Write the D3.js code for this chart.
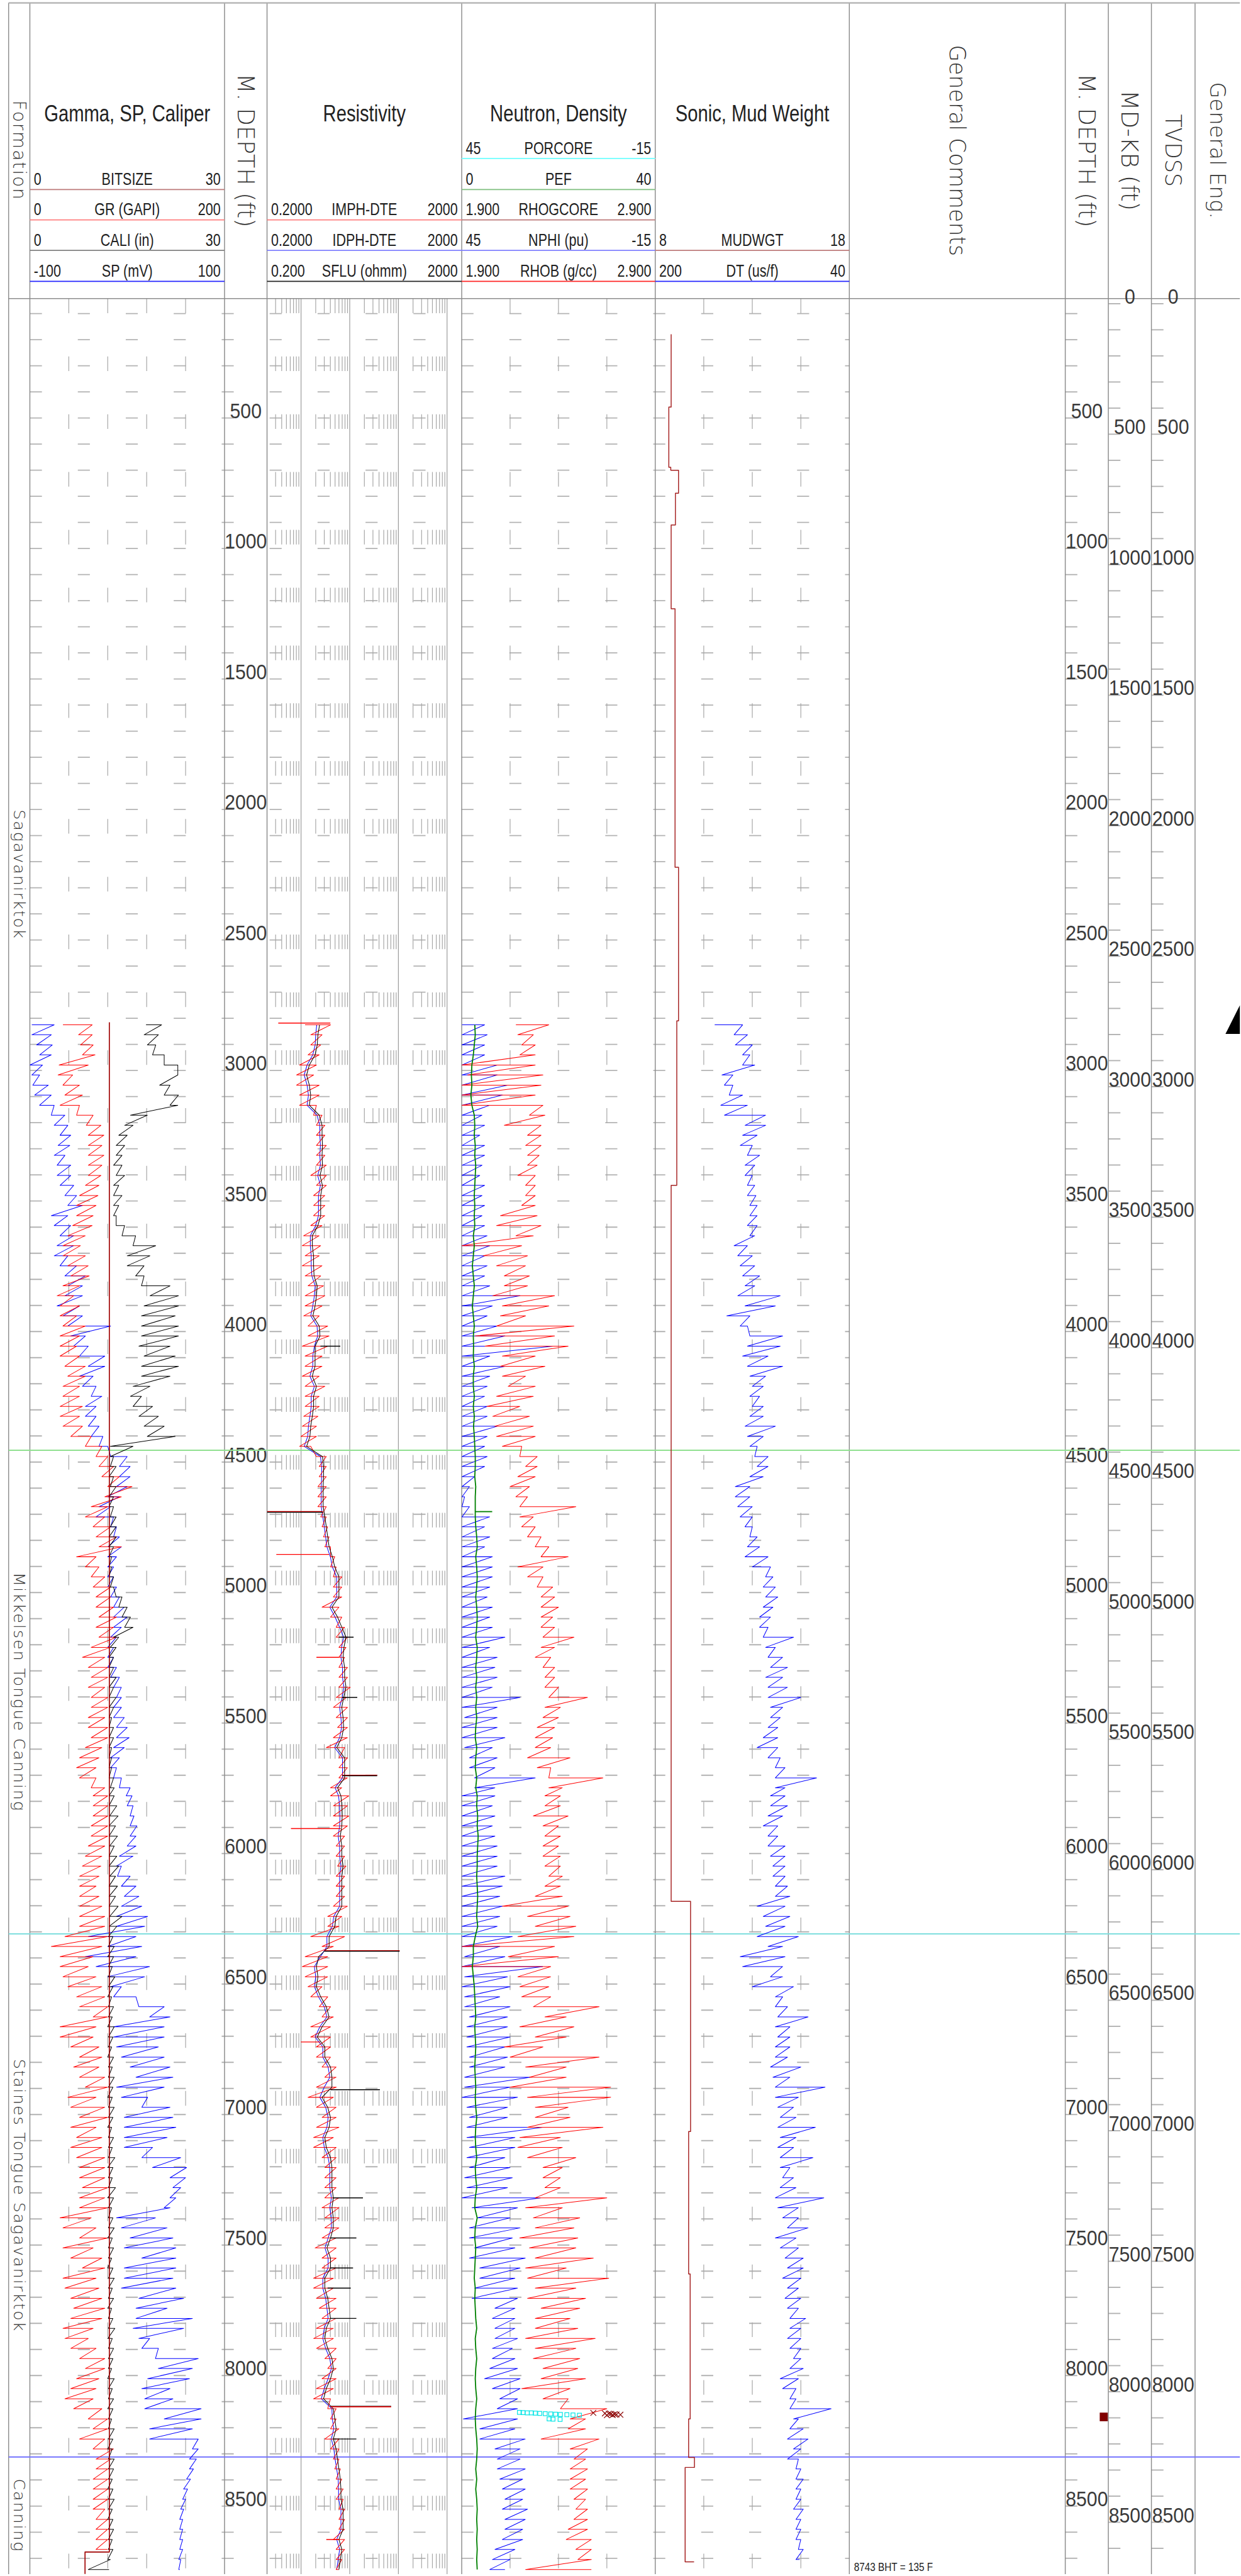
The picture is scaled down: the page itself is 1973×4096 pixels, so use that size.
<!DOCTYPE html>
<html>
<head>
<meta charset="utf-8">
<script src="https://cdn.jsdelivr.net/npm/d3@7"></script>
<style>
  body { margin: 0; background: #fff; }
</style>
</head>
<body>
<div id="chart"></div>
<script>
// ---- log samples (depth in ft, values in curve units) ----
var depthFt = [
  2825,2863,2902,2940,2979,3017,3056,3094,3133,3171,
  3210,3248,3287,3325,3363,3402,3440,3479,3517,3556,
  3594,3633,3671,3710,3748,3787,3825,3863,3902,3940,
  3979,4017,4056,4094,4133,4171,4210,4248,4287,4325,
  4363,4402,4440,4479,4517,4556,4594,4633,4671,4710,
  4748,4787,4825,4863,4902,4940,4979,5017,5056,5094,
  5133,5171,5210,5248,5287,5325,5363,5402,5440,5479,
  5517,5556,5594,5633,5671,5710,5748,
  5779,5817,5856,5894,5933,5971,6010,6048,6087,6125,
  6164,6202,6241,6279,6318,6356,6395,6433,6472,6510,
  6549,6587,6626,6664,6703,6741,6780,6818,6857,6895,
  6934,6972,7011,7049,7088,7126,7165,7203,7242,7280,
  7319,7357,7396,7434,7473,7511,7550,7588,7627,7665,
  7704,7742,7781,7819,7858,7896,7935,7973,8012,8050,
  8089,8127,8166,8204,8243,8281,8320,8358,8397,8435,
  8474,8512,8551,8589,8628,8666,8705,8743
];

// GR (GAPI) low / high edge of the trace
var grLo = [
  34,50,52,54,30,29,34,36,31,48, 58,60,60,60,60,60,57,51,48,48,
  44,39,34,34,39,42,34,28,31,31, 34,31,31,31,36,39,34,34,31,31,
  34,42,57,68,71,74,80,77,63,57, 65,68,71,48,57,63,65,68,68,71,
  68,71,63,54,60,63,60,63,63,60, 60,63,57,51,48,51,63,
  65,65,65,63,63,60,57,54,51,51, 51,51,51,51,36,22,31,31,34,39,
  48,51,65,31,31,42,51,45,51,57, 39,42,51,42,48,42,48,51,51,54,
  51,51,31,34,51,34,42,54,34,36, 42,45,42,34,36,42,51,57,48,42,
  36,45,60,65,51,65,68,68,65,65, 65,65,68,68,68,68,null,null
];
var grHi = [
  64,64,65,67,60,44,51,54,51,65, 73,76,74,76,74,73,71,70,68,65,
  64,57,52,57,60,61,51,45,51,48, 57,51,48,51,57,57,51,51,54,51,
  54,63,74,80,86,92,105,94,80,77, 83,89,94,68,71,77,83,83,86,89,
  86,89,83,77,80,80,77,80,80,77, 80,80,74,71,68,68,77,
  80,80,80,80,80,77,74,73,71,68, 71,74,77,77,80,74,65,60,68,74,
  77,80,80,68,65,71,74,71,77,80, 68,77,80,68,74,74,77,77,77,80,
  77,80,63,68,80,65,74,77,68,71, 74,77,74,65,60,68,77,77,71,68,
  65,74,80,80,77,86,83,80,80,80, 80,77,80,80,80,80,null,null
];

// SP (mV)
var spLo = [
  -98,-98,-93,-90,-100,-98,-97,-95,-90,-78, -75,-69,-71,-75,-72,-72,-69,-64,-61,-78,
  -75,-69,-72,-75,-69,-64,-61,-64,-72,-66, -61,-58,-55,-49,-40,-49,-46,-37,-43,-43,
  -40,-37,-29,-17,-8,-8,-11,-20,-29,-32, -17,-14,-20,-20,-20,-20,-20,-17,-14,-14,
  -14,-17,-20,-20,-20,-17,-14,-11,-14,-14, -11,-11,-14,-17,-17,-14,-8,
  -1,0,3,3,3,0,-8,-11,-10,-6, -3,-6,-11,-11,-40,-20,-43,-32,-20,-17,
  -14,12,23,-14,-14,-11,-6,3,9,-11, -6,15,-3,-3,-3,-3,15,26,44,47,
  44,38,-11,-6,3,-3,15,-3,-3,-6, 12,9,9,6,12,15,29,32,21,15,
  18,18,38,23,23,67,64,64,61,58, 57,55,54,54,54,54,53,53
];
var spHi = [
  -75,-78,-77,-78,-87,-90,-81,-78,-75,-64, -61,-58,-59,-64,-58,-58,-55,-52,-46,-61,
  -58,-55,-55,-61,-52,-43,-46,-46,-49,-46, -17,-43,-40,-23,-23,-35,-32,-26,-32,-32,
  -29,-25,-20,0,3,3,0,-8,-17,-14, -11,-8,-6,-11,-14,-14,-11,-8,-3,0,
  -6,-11,-14,-14,-11,-8,-6,-6,-6,-3, 0,2,-3,-8,-11,-6,3,
  5,6,7,10,9,9,6,-6,3,9, 12,15,21,18,9,15,9,23,18,-6,
  9,38,44,38,38,32,38,44,47,38, 21,44,47,50,41,26,55,61,60,55,
  50,44,29,41,47,50,50,50,47,50, 58,41,67,58,23,32,73,67,64,44,
  47,76,76,67,73,73,71,68,65,62, 60,58,57,57,57,57,55,54
];

// CALI (in)
var caliLo = [
  17.9,17.6,18.1,18.9,20.7,22.8,20.0,20.7,21.6,15.5, 14.6,13.7,13.3,13.3,12.9,13.3,12.9,12.9,12.9,12.9,
  13.3,14.2,15.9,15.0,15.0,16.3,17.2,18.5,17.6,17.2, 17.2,17.2,16.8,17.6,17.2,17.2,15.9,15.5,15.9,16.8,
  17.6,18.1,12.4,12.4,12.4,12.2,12.4,12.2,12.2,12.4, 12.4,12.2,12.2,12.2,12.2,12.2,12.4,13.3,13.7,14.2,
  14.6,12.9,12.4,12.2,12.2,12.2,12.2,12.2,12.2,12.2, 12.2,12.2,12.2,12.2,12.2,12.2,12.4,
  12.2,12.2,12.3,12.2,12.2,12.3,12.2,12.2,12.3,12.2, 12.2,12.2,12.3,12.2,12.1,12.1,12.0,12.1,12.1,12.1,
  12.0,12.1,12.1,12.0,12.1,12.1,12.0,12.1,12.1,12.1, 12.0,12.1,12.1,12.0,12.1,12.1,12.1,12.0,12.1,12.1,
  12.0,12.1,12.1,12.1,12.0,12.1,12.1,12.0,12.1,12.1, 12.1,12.0,12.1,12.1,12.0,12.1,12.1,12.1,12.0,12.1,
  12.1,12.0,12.1,12.1,12.1,12.0,12.1,12.1,12.1,12.0, 12.1,12.1,12.0,12.1,12.1,12.1,12.0,9.0
];
var caliHi = [
  20.3,19.8,19.4,20.7,22.8,22.8,21.6,22.9,22.8,18.1, 15.9,15.0,14.6,14.2,14.2,14.6,13.7,14.2,13.7,13.3,
  14.6,16.3,19.4,18.5,17.6,17.6,21.6,22.9,22.9,22.4, 22.9,22.9,21.6,22.4,22.9,21.6,18.5,17.2,18.9,19.8,
  20.7,22.4,15.9,12.9,13.3,12.9,13.3,12.9,12.9,13.3, 13.3,13.3,12.9,12.6,12.6,12.9,12.9,14.2,15.0,15.5,
  15.9,13.7,13.3,12.9,12.9,13.3,12.9,13.3,12.9,12.6, 12.9,12.9,12.6,12.6,12.6,12.9,13.0,
  13.0,13.4,13.6,13.2,13.5,13.0,13.4,13.7,13.2,13.5, 13.2,13.6,14.2,13.4,12.8,13.0,12.9,12.7,13.1,12.8,
  12.6,12.9,12.7,13.0,12.8,12.6,12.9,12.7,13.0,12.8, 12.7,13.0,12.8,12.6,12.9,12.7,13.1,12.8,12.7,13.2,
  12.9,12.6,12.8,13.0,12.7,12.9,12.6,12.8,13.0,12.7, 12.9,12.6,12.8,13.1,12.7,12.9,12.8,12.6,13.0,12.7,
  12.9,12.8,12.6,13.0,12.8,12.7,13.0,12.9,12.7,12.8, 13.0,12.7,12.8,12.9,12.7,12.8,12.4,12.2
];

// bit size (in)
var bitFt = [2815, 8676, 8676, 8760];
var bitIn = [12.25, 12.25, 8.5, 8.5];

// IMPH-DTE (ohmm)
var imphLo = [
  1.21,1.58,1.58,1.39,0.93,0.81,0.81,0.93,0.93,1.81, 2.07,2.07,2.07,2.07,2.07,1.58,2.07,1.81,1.81,1.81,
  1.58,1.13,1.06,1.21,1.06,1.21,1.39,1.21,1.21,1.13, 1.39,1.39,1.06,1.21,1.21,1.06,1.21,1.21,1.21,1.13,
  1.06,0.99,0.93,2.07,2.36,2.36,2.22,2.22,2.22,2.53, 2.70,2.89,3.08,4.03,4.03,4.61,4.61,4.61,2.70,4.03,
  5.26,5.26,6.01,6.01,6.01,6.01,6.01,5.26,4.61,5.26, 5.62,4.61,3.30,6.01,6.01,6.01,4.03,
  4.03,4.61,4.61,4.61,4.61,5.26,5.26,5.62,5.26,5.26, 5.26,4.61,3.53,3.53,1.58,2.70,1.21,1.06,1.21,1.39,
  1.58,2.36,2.70,1.58,1.58,2.07,2.07,2.70,3.08,2.07, 1.39,2.07,2.70,2.07,1.81,1.81,2.70,3.08,3.08,3.08,
  3.08,2.70,3.08,3.08,2.70,1.94,2.70,2.70,1.81,1.81, 2.07,2.36,2.70,2.07,1.81,2.07,3.08,3.53,2.70,2.07,
  1.81,3.53,4.03,4.03,3.08,4.03,4.61,4.93,5.26,5.26, 5.26,6.01,6.01,6.01,4.61,5.26,5.26,5.26
];
var imphHi = [
  4.03,2.70,2.53,2.36,2.07,1.81,2.36,2.36,2.07,2.70, 3.08,3.08,3.30,3.08,3.30,3.30,3.30,3.08,3.08,3.08,
  2.70,2.36,2.53,2.36,2.70,2.53,2.89,3.08,2.70,2.36, 3.53,3.77,3.53,2.70,2.70,2.36,3.08,2.36,2.36,2.22,
  2.07,2.07,1.58,3.30,3.30,3.30,3.30,3.30,3.30,3.30, 3.53,3.77,4.03,4.93,5.26,6.87,6.87,6.87,6.01,6.87,
  7.85,8.97,8.39,7.85,8.97,8.97,10.3,8.5,8.97,8.97, 8.97,8.97,7.85,8.97,8.97,8.97,6.87,
  9.59,8.97,9.59,8.97,7.85,7.85,7.85,8.39,7.85,7.85, 7.85,8.97,6.87,6.01,7.85,4.61,3.53,3.53,3.53,2.70,
  3.53,4.03,4.61,4.03,4.03,4.03,4.03,5.26,5.26,5.30, 4.61,5.26,5.26,6.01,4.61,5.26,5.26,5.26,5.26,5.26,
  6.01,6.01,6.01,6.01,5.26,5.26,5.26,5.26,4.61,4.61, 5.26,5.26,5.26,4.61,4.61,5.26,5.26,5.26,5.26,4.61,
  4.03,5.26,5.26,6.01,6.01,6.01,6.01,6.43,6.87,7.34, 7.34,7.85,7.85,7.85,7.85,7.85,6.87,6.01
];
// SFLU (ohmm)
var sflu = [
  2.4,2.22,2.15,1.94,1.48,1.30,1.48,1.58,1.48,2.36, 2.70,2.70,2.75,2.70,2.75,2.45,2.75,2.53,2.53,2.53,
  2.22,1.70,1.70,1.81,1.81,1.85,2.15,2.07,1.94,1.75, 2.36,2.45,1.94,1.94,1.94,1.70,2.07,1.81,1.81,1.70,
  1.58,1.52,1.30,2.75,2.9,2.9,2.85,2.85,2.85,3.08, 3.30,3.53,3.77,4.4,4.93,6.0,6.0,6.0,4.31,5.62,
  6.87,8.4,7.6,7.3,7.85,7.85,8.4,7.5,6.87,7.3, 7.5,6.87,5.4,7.85,7.85,7.85,5.62,
  6.6,6.87,7.0,6.87,6.4,6.87,6.87,7.3,6.87,6.87, 6.87,6.87,5.26,4.93,3.77,3.77,2.3,2.07,2.22,2.07,
  2.53,3.30,3.77,2.70,2.15,3.08,3.08,4.03,4.31,4.31, 2.70,3.53,4.03,3.77,3.08,3.30,4.03,4.31,4.31,4.31,
  4.6,4.31,4.6,4.6,4.03,3.4,4.03,4.03,3.08,3.08, 3.53,3.77,4.03,3.3,3.08,3.53,4.31,4.6,4.03,3.3,
  2.9,4.6,4.93,5.26,4.6,5.26,5.6,6.0,6.4,6.6, 6.6,7.3,7.3,7.3,6.0,6.87,6.43,6.0
];
// IDPH-DTE (ohmm)
var idph = [
  2.1,2.0,1.95,1.74,1.33,1.16,1.33,1.42,1.33,2.13, 2.43,2.43,2.5,2.43,2.5,2.2,2.5,2.28,2.28,2.28,
  2.0,1.55,1.55,1.62,1.62,1.67,1.95,1.88,1.74,1.58, 2.13,2.2,1.88,1.74,1.74,1.52,1.88,1.62,1.62,1.52,
  1.42,1.37,1.16,2.5,2.65,2.65,2.6,2.6,2.6,2.8, 3.0,3.2,3.4,4.0,4.4,5.4,5.4,5.4,3.9,5.0,
  6.2,7.5,6.8,6.6,7.1,7.1,7.6,7.0,6.2,6.6, 6.8,6.2,4.9,7.1,7.1,7.1,5.0,
  5.9,6.2,6.3,6.2,5.8,6.2,6.2,6.6,6.2,6.2, 6.2,6.2,4.7,4.4,3.4,3.4,2.5,1.88,2.0,1.88,
  2.28,3.0,3.4,2.43,1.95,2.8,2.8,3.6,3.9,3.0, 2.43,3.2,3.6,3.4,2.8,3.0,3.6,3.9,3.9,3.9,
  4.2,3.9,4.2,4.2,3.6,3.1,3.6,3.6,2.8,2.8, 3.2,3.4,3.6,3.0,2.8,3.2,3.9,4.2,3.6,3.0,
  2.6,4.3,4.4,4.7,4.2,4.7,5.0,5.4,5.8,5.9, 5.9,6.6,6.6,6.6,5.4,6.2,5.8,5.4
];
// single-sample resistivity spikes: depth, trace value, spike tip, curve
var resSpikeFt  = [2818, 4056, 4690, 4692, 4854, 5171, 5248, 5402, 5700, 5702, 5904, 6372, 6374, 6722, 6905, 7319, 7473, 7588, 7665, 7781, 8118, 8120, 8243, 8628];
var resSpikeBase = [4.0, 2.5, 2.8, 2.8, 3.8, 6.0, 6.0, 7.0, 7.0, 7.0, 6.5, 3.0, 3.0, 2.5, 4.0, 4.5, 4.0, 4.0, 3.5, 4.0, 4.0, 4.0, 4.5, 6.0];
var resSpikeTip  = [0.34, 6.4, 0.2, 0.2, 0.31, 12.0, 2.07, 14.3, 36.5, 36.5, 0.62, 106, 106, 0.99, 41.7, 18.7, 13.7, 11.7, 10.5, 13.7, 71, 71, 13.7, 3.3];
var resSpikeCurve = ["IMPH", "SFLU", "IMPH", "SFLU", "IMPH", "SFLU", "IMPH", "SFLU", "IMPH", "SFLU", "IMPH", "IMPH", "SFLU", "IMPH", "SFLU", "SFLU", "SFLU", "SFLU", "SFLU", "SFLU", "SFLU", "IMPH", "SFLU", "IMPH"];

// NPHI (pu): high-porosity edge / low-porosity edge
var nphiHi = [
  44.9,44.9,44.9,44.9,44.9,44.9,44.9,44.9,44.9,44.9, 44.9,44.9,44.9,44.9,44.9,44.9,44.9,44.9,44.9,44.9,
  44.9,44.9,44.9,44.9,44.9,44.9,44.9,44.9,44.9,44.9, 44.9,44.9,44.9,44.9,44.9,44.9,44.9,44.9,44.9,44.9,
  44.9,44.9,44.9,44.9,44.9,44.9,44.9,44.9,44.9,44.9, 44.9,44.9,44.9,44.9,44.9,44.9,44.9,44.9,44.9,44.9,
  44.9,44.9,44.9,44.9,44.9,44.9,44.9,44.9,44.9,44.1, 44.9,44.9,44.1,42.6,42.6,41.0,41.0,
  44.9,44.9,44.9,44.9,44.9,44.9,44.9,44.9,44.9,44.9, 44.9,44.9,44.9,44.9,44.9,44.9,44.1,44.9,44.1,44.9,
  44.1,44.1,42.6,43.4,43.4,43.4,42.6,42.6,44.1,44.1, 44.9,43.4,42.6,43.4,43.4,42.6,43.4,42.6,44.1,43.4,
  44.9,41.8,40.2,42.6,42.6,41.0,42.6,39.4,39.4,41.0, 41.8,34.7,35.5,34.7,34.7,35.5,35.5,36.3,37.9,35.5,
  33.2,34.0,44.5,39.4,39.4,34.7,34.0,34.0,33.2,32.4, 31.6,32.4,31.6,31.6,32.4,34.7,35.5,36.3
];
var nphiLo = [
  37.9,37.1,37.9,37.9,34.0,34.0,30.8,32.4,36.3,38.7, 37.9,39.4,37.9,37.9,38.7,39.4,37.9,38.7,37.9,38.7,
  37.9,37.1,36.3,37.9,37.1,37.9,36.3,26.9,35.5,37.1, 34.0,31.6,16.7,36.3,31.6,36.3,37.1,37.9,37.1,37.1,
  34.0,37.1,37.9,37.1,37.9,41.0,42.6,44.1,42.6,36.3, 37.9,36.3,37.9,35.5,35.5,35.5,36.3,37.1,35.5,36.3,
  35.5,31.6,36.3,34.0,34.7,34.0,35.5,26.9,34.0,34.0, 34.0,31.6,35.5,34.0,34.7,22.2,34.7,
  34.7,35.5,34.7,35.5,34.7,34.0,34.0,34.0,31.6,32.4, 33.2,32.4,33.2,34.0,29.3,33.2,31.6,19.9,30.8,30.0,
  33.2,30.0,30.8,30.8,30.0,31.6,30.8,31.6,23.8,30.0, 27.7,30.8,30.8,19.9,28.5,28.5,31.6,30.0,29.3,30.8,
  20.6,27.7,30.0,26.9,29.3,28.5,25.3,26.9,28.5,27.7, 27.7,28.5,28.5,28.5,27.7,29.3,28.5,27.7,26.9,26.9,
  27.7,27.7,27.7,28.5,25.3,26.9,26.9,25.3,26.1,25.3, 26.1,24.6,25.3,26.1,26.1,28.5,30.0,31.6
];

// RHOB (g/cc)
var rhobLo = [
  2.18,2.19,2.21,2.20,1.90,1.93,1.90,1.90,1.90,2.25, 2.12,2.24,2.23,2.24,2.24,2.19,2.23,2.23,2.21,2.10,
  2.08,2.18,1.90,2.01,2.08,2.12,2.12,2.06,2.11,2.10, 2.08,1.97,2.02,2.11,2.10,2.11,2.14,2.08,2.03,2.06,
  2.07,2.08,2.11,2.20,2.23,2.19,2.15,2.18,2.20,2.20, 2.21,2.24,2.28,2.31,2.19,2.24,2.29,2.31,2.31,2.31,
  2.31,2.32,2.31,2.28,2.32,2.33,2.33,2.35,2.33,2.32, 2.29,2.28,2.28,2.24,2.29,2.35,2.35,
  2.33,2.33,2.27,2.32,2.33,2.32,2.32,2.33,2.35,2.33, 2.28,2.11,2.24,2.28,2.19,1.90,2.14,1.90,2.19,2.20,
  2.21,2.27,2.33,2.20,2.28,2.12,2.15,2.23,2.25,2.15, 2.24,2.28,2.28,2.24,2.20,2.19,2.24,2.32,2.32,2.33,
  2.28,2.23,2.27,2.28,2.20,2.25,2.28,2.23,2.24,2.28, 2.24,2.31,2.28,2.28,2.23,2.28,2.27,2.32,2.31,2.21,
  2.32,2.41,2.46,2.45,2.31,2.46,2.48,2.46,2.46,2.46, 2.48,2.49,2.48,2.45,2.44,2.49,2.50,2.23
];
var rhobHi = [
  2.35,2.27,2.28,2.28,2.28,2.32,2.31,2.28,2.32,2.33, 2.31,2.31,2.31,2.30,2.29,2.28,2.28,2.28,2.28,2.29,
  2.31,2.27,2.21,2.24,2.23,2.25,2.24,2.38,2.35,2.23, 2.48,2.38,2.45,2.28,2.33,2.23,2.28,2.27,2.20,2.25,
  2.27,2.28,2.21,2.29,2.29,2.28,2.25,2.24,2.49,2.27, 2.28,2.31,2.35,2.45,2.32,2.32,2.37,2.38,2.40,2.37,
  2.38,2.48,2.38,2.36,2.38,2.38,2.40,2.55,2.41,2.40, 2.38,2.37,2.36,2.46,2.36,2.63,2.42,
  2.41,2.41,2.45,2.40,2.41,2.40,2.41,2.41,2.42,2.41, 2.42,2.45,2.46,2.49,2.48,2.38,2.40,2.36,2.36,2.35,
  2.36,2.61,2.44,2.48,2.44,2.32,2.61,2.44,2.44,2.67, 2.67,2.45,2.46,2.63,2.41,2.42,2.49,2.42,2.41,2.41,
  2.65,2.42,2.51,2.48,2.50,2.49,2.58,2.44,2.66,2.49, 2.54,2.51,2.46,2.50,2.59,2.49,2.51,2.50,2.54,2.46,
  2.45,2.65,2.54,2.54,2.61,2.55,2.54,2.55,2.54,2.55, 2.54,2.55,2.55,2.55,2.57,2.57,2.57,2.57
];

// PEF
var pef = [
  2.7,2.8,2.6,2.4,2.1,2.0,2.1,1.9,2.1,2.6, 2.7,2.6,2.8,2.7,2.9,2.8,2.7,2.6,2.7,2.6,
  2.7,2.4,2.6,2.4,2.2,2.4,2.6,2.4,2.2,2.4, 2.6,2.4,2.45,2.4,2.6,2.4,2.4,2.6,2.4,2.6,
  2.45,2.6,2.7,2.8,2.8,2.7,2.9,2.8,2.8,2.8, 2.9,3.1,3.2,2.9,3.1,3.2,3.1,2.9,3.1,3.2,
  3.1,2.9,3.2,3.1,2.9,3.1,2.9,3.1,2.9,3.1, 2.9,2.8,3.1,2.9,2.8,3.1,2.9,
  3.2,3.1,3.3,3.2,3.4,3.3,3.2,3.2,3.1,3.2, 3.3,3.2,3.1,3.3,2.8,2.4,2.4,2.2,2.4,2.6,
  2.7,2.8,2.9,2.7,2.8,2.9,2.8,2.7,2.8,2.9, 2.8,2.9,3.1,2.9,2.8,2.9,3.1,2.8,2.9,3.1,
  2.8,2.7,3.2,2.8,2.7,2.9,2.8,2.7,2.6,2.8, 2.7,2.8,2.9,3.1,2.8,2.9,3.1,2.9,2.8,2.9,
  3.1,2.9,2.8,2.9,3.1,3.2,3.1,2.9,3.1,2.9, 3.1,3.2,3.1,3.2,3.1,3.2,3.1,3.2
];
var pefSpikeFt = [4690];
var pefSpikeBase = [2.8];
var pefSpikeTip = [6.3];

// DT (us/f): slow edge / fast edge
var dtHi = [
  151,135,134,128,128,145,143,139,146,143, 126,128,130,124,126,126,124,124,122,122,
  124,122,135,132,130,128,126,132,126,141, 130,122,124,128,124,122,120,122,120,122,
  126,124,122,118,116,122,134,134,132,130, 126,122,124,126,120,109,111,109,111,114,
  114,111,109,107,105,109,107,107,105,105, 107,111,116,107,101,101,101,
  105,105,107,111,107,107,105,103,103,101, 101,116,111,109,116,107,130,128,105,120,
  101,101,99,101,99,101,101,105,103,101, 101,99,97,99,97,99,97,97,95,97,
  101,99,95,91,101,97,93,91,95,91, 93,91,89,89,91,89,86,89,97,95,
  89,89,86,89,91,86,91,84,84,84, 84,86,84,84,84,82,84,null
];
var dtLo = [
  128,124,120,122,118,136,136,128,124,109, 109,116,120,114,118,120,118,117,116,116,
  116,118,124,120,118,114,118,97,101,122, 124,95,97,107,95,109,111,114,111,111,
  101,111,116,107,107,111,122,122,120,120, 120,116,114,107,105,103,101,99,103,105,
  107,86,101,95,91,95,91,80,95,97, 99,99,99,97,93,67,93,
  93,91,95,99,99,93,93,93,93,91, 89,93,89,93,82,95,93,95,95,86,
  95,91,74,89,89,89,91,80,89,60, 82,86,84,68,84,86,70,89,86,84,
  61,82,82,74,84,82,78,78,80,82, 80,82,76,80,80,80,80,78,82,84,
  84,55,82,78,74,80,82,80,78,80, 80,78,80,80,80,78,81,null
];

// mud weight (ppg), each value holds down to the next depth
var mwFt  = [179, 458, 689, 700, 788, 910, 1231, 2221, 2810, 3440, 6183, 7065, 7611, 8166, 8314, 8352, 8714];
var mwPpg = [8.82, 8.7, 8.8, 9.2, 9.04, 8.82, 9.02, 9.2, 9.11, 8.82, 9.82, 9.72, 9.8, 9.72, 10.02, 9.54, 10.0];

// core points
var porCoreFt = [8141, 8142, 8143, 8143, 8144, 8145, 8146, 8147, 8148, 8149, 8150, 8151, 8152, 8166, 8167, 8168];
var porCore   = [27.1, 26.0, 24.7, 23.4, 22.2, 20.8, 19.1, 17.4, 15.9, 14.4, 12.4, 10.5, 8.5, 17.9, 16.7, 14.5];
var rhogCoreFt = [8143, 8145, 8146, 8147, 8148, 8149, 8150, 8151, 8152];
var rhogCore   = [2.58, 2.64, 2.66, 2.67, 2.69, 2.70, 2.72, 2.68, 2.65];
var coreIntervalFt = [8142, 8175];

// formations
var formNames = ["Sagavanirktok", "Mikkelsen Tongue Canning", "Staines Tongue Sagavanirktok", "Canning"];
var formTopsFt = [4455, 6308, 8312];
var formColors = ["#8fe08f", "#80dede", "#7373ff"];

var kbShiftFt = 62;
var casingShoeFt = 2860;
var bhtNote = "8743 BHT = 135 F";

// ---- layout ----
var K = 0.913;
var TOP = 5, HEAD = 520, BOT = 4483, RIGHT = 2159;
var X = { form: 15, gam: 52, dep: 391, res: 465, neu: 804, son: 1141, sonR: 1479,
          com: 1855, md2: 1930, kb: 2005, tv: 2081 };
var SANS = '"Liberation Sans", Arial, sans-serif';
var ROT = '"DejaVu Sans", sans-serif';

var svg = d3.select('#chart').append('svg')
    .attr('width', 1973).attr('height', 4096)
    .style('background', '#fff');
var g = svg.append('g').attr('transform', 'scale(' + K + ')');

var y = d3.scaleLinear().domain([500, 8500]).range([728, 4364.5]);

var grX = d3.scaleLinear().domain([0, 200]).range([X.gam, X.dep]);
var spX = d3.scaleLinear().domain([-100, 100]).range([X.gam, X.dep]);
var caliX = d3.scaleLinear().domain([0, 30]).range([X.gam, X.dep]);
var resX = d3.scaleLog().domain([0.2, 2000]).range([X.res, X.neu]);
var nphiX = d3.scaleLinear().domain([45, -15]).range([X.neu, X.son]);
var rhobX = d3.scaleLinear().domain([1.9, 2.9]).range([X.neu, X.son]);
var pefX = d3.scaleLinear().domain([0, 40]).range([X.neu, X.son]);
var dtX = d3.scaleLinear().domain([200, 40]).range([X.son, X.sonR]);
var mwX = d3.scaleLinear().domain([8, 18]).range([X.son, X.sonR]);

var defs = svg.append('defs');
function clipFor(id, x0, x1) {
    defs.append('clipPath').attr('id', id).append('rect')
        .attr('x', x0).attr('y', HEAD).attr('width', x1 - x0).attr('height', BOT - HEAD);
    return g.append('g').attr('clip-path', 'url(#' + id + ')');
}

// narrow stroke-font look: squeeze Liberation Sans horizontally
function squeeze(sel, fx, fy, sx) {
    sel.attr('transform', function (d, i) {
        return 'translate(' + fx(d, i) + ',' + fy(d, i) + ') scale(' + sx + ',1)';
    });
}

// ---- grid ----
var grid = g.append('g');
var rows = d3.range(100, 8800, 100).filter(function (d) { return y(d) > HEAD && y(d) < BOT; });
grid.selectAll('.hrow').data(rows).enter().append('line')
    .attr('x1', X.gam).attr('x2', X.sonR)
    .attr('y1', function (d) { return y(d); }).attr('y2', function (d) { return y(d); })
    .attr('stroke', '#b3b3b3').attr('stroke-width', 2).attr('stroke-dasharray', '21,62.5');

var vDash = [40, 80, 120, 160].map(function (v) { return grX(v); })
    .concat([30, 15, 0].map(function (v) { return nphiX(v); }))
    .concat([160, 120, 80].map(function (v) { return dtX(v); }));
[0.1, 1, 10, 100].forEach(function (b) {
    d3.range(2, 10).forEach(function (m) {
        var v = b * m;
        if (v > 0.2 && v < 2000) vDash.push(resX(v));
    });
});
grid.selectAll('.vd').data(vDash).enter().append('line')
    .attr('x1', function (d) { return d; }).attr('x2', function (d) { return d; })
    .attr('y1', HEAD).attr('y2', BOT)
    .attr('stroke', '#a6a6a6').attr('stroke-width', 1.3).attr('stroke-dasharray', '25.5,75.2');
grid.selectAll('.vm').data([1, 10, 100, 1000]).enter().append('line')
    .attr('x1', function (d) { return resX(d); }).attr('x2', function (d) { return resX(d); })
    .attr('y1', HEAD).attr('y2', BOT)
    .attr('stroke', '#9a9a9a').attr('stroke-width', 1.3);

// depth ticks in right columns
var tickDepths = d3.range(0, 8800, 100);
[[X.com, 0], [X.md2, kbShiftFt], [X.kb, kbShiftFt]].forEach(function (c) {
    grid.selectAll(null).data(tickDepths.filter(function (d) {
        var yy = y(d + c[1]); return yy >= HEAD && yy < BOT; }))
        .enter().append('line')
        .attr('x1', c[0]).attr('x2', c[0] + 21)
        .attr('y1', function (d) { return y(d + c[1]); }).attr('y2', function (d) { return y(d + c[1]); })
        .attr('stroke', '#b0b0b0').attr('stroke-width', 2);
});

// ---- frame ----
var frame = g.append('g').attr('stroke', '#8c8c8c').attr('stroke-width', 1.6);
[X.form, X.gam, X.dep, X.res, X.neu, X.son, X.sonR, X.com, X.md2, X.kb, X.tv].forEach(function (x) {
    frame.append('line').attr('x1', x).attr('x2', x).attr('y1', TOP).attr('y2', BOT);
});
frame.append('line').attr('x1', X.form).attr('x2', RIGHT).attr('y1', TOP).attr('y2', TOP)
    .attr('stroke', '#b0b0b0').attr('stroke-width', 2.4);
frame.append('line').attr('x1', X.form).attr('x2', RIGHT).attr('y1', HEAD).attr('y2', HEAD);

// ---- depth labels ----
var lab = g.append('g').attr('font-family', SANS).attr('font-size', 36).attr('fill', '#3a3a3a')
    .attr('text-anchor', 'middle');
var mdLabels = d3.range(500, 9000, 500).filter(function (d) { return y(d) < BOT; });
var kbLabels = d3.range(0, 9000, 500).filter(function (d) { return y(d + kbShiftFt) < BOT; });
[[(X.dep + X.res) / 2, mdLabels, 0], [(X.com + X.md2) / 2, mdLabels, 0],
 [(X.md2 + X.kb) / 2, kbLabels, kbShiftFt], [(X.kb + X.tv) / 2, kbLabels, kbShiftFt]].forEach(function (c) {
    var t = lab.selectAll(null).data(c[1]).enter().append('text')
        .text(function (d) { return d; });
    squeeze(t, function () { return c[0]; }, function (d) { return y(d + c[2]); }, 0.92);
});

// ---- formation tops ----
var topsG = g.append('g');
topsG.selectAll('line').data(formTopsFt).enter().append('line')
    .attr('x1', X.form).attr('x2', RIGHT)
    .attr('y1', function (d) { return y(d); }).attr('y2', function (d) { return y(d); })
    .attr('stroke', function (d, i) { return formColors[i]; }).attr('stroke-width', 2.2);
var bounds = [HEAD].concat(formTopsFt.map(function (d) { return y(d); })).concat([BOT]);
topsG.selectAll('text').data(formNames).enter().append('text')
    .attr('transform', function (d, i) {
        return 'translate(' + ((X.form + X.gam) / 2) + ',' + ((bounds[i] + bounds[i + 1]) / 2) + ') rotate(90)';
    })
    .attr('text-anchor', 'middle').attr('dominant-baseline', 'central')
    .attr('font-family', ROT).attr('font-weight', 200).attr('font-size', 28)
    .attr('letter-spacing', 2).attr('fill', '#333')
    .text(function (d) { return d; });

// ---- curves ----
function bandPoints(lo, hi) {
    var pts = [];
    depthFt.forEach(function (d, i) {
        if (lo[i] == null || hi[i] == null) { pts.push([d, null]); return; }
        pts.push([d, lo[i]], [d, hi[i]]);
    });
    return pts;
}
function pairPoints(ds, vs) {
    return ds.map(function (d, i) { return [d, vs[i]]; });
}
function drawCurve(track, pts, xs, color, w, curve) {
    var line = d3.line()
        .defined(function (p) { return p[1] != null; })
        .x(function (p) { return xs(p[1]); })
        .y(function (p) { return y(p[0]); });
    if (curve) line.curve(curve);
    track.append('path').datum(pts).attr('d', line)
        .attr('fill', 'none').attr('stroke', color).attr('stroke-width', w)
        .attr('stroke-linejoin', 'round');
}
function drawSpikes(track, ds, base, tip, xs, colorOf, w) {
    track.selectAll(null).data(ds).enter().append('line')
        .attr('x1', function (d, i) { return xs(base[i]); })
        .attr('x2', function (d, i) { return xs(tip[i]); })
        .attr('y1', function (d) { return y(d); }).attr('y2', function (d) { return y(d); })
        .attr('stroke', function (d, i) { return colorOf(i); }).attr('stroke-width', w);
}

var gamT = clipFor('clipGam', X.gam, X.dep);
drawCurve(gamT, bandPoints(spLo, spHi), spX, '#0000ff', 1.1);
drawCurve(gamT, bandPoints(grLo, grHi), grX, '#ff0000', 1.1);
drawCurve(gamT, bandPoints(caliLo, caliHi), caliX, '#000000', 1.1);
drawCurve(gamT, pairPoints(bitFt, bitIn), caliX, '#a00000', 1.8);

var resT = clipFor('clipRes', X.res, X.neu);
drawCurve(resT, pairPoints(depthFt, idph), resX, '#0000ff', 1.1);
drawCurve(resT, bandPoints(imphLo, imphHi), resX, '#ff0000', 1.1);
drawCurve(resT, pairPoints(depthFt, sflu), resX, '#000000', 1.1);
drawSpikes(resT, resSpikeFt, resSpikeBase, resSpikeTip, resX,
    function (i) { return resSpikeCurve[i] === 'IMPH' ? '#ff0000' : '#000000'; }, 1.6);

var neuT = clipFor('clipNeu', X.neu, X.son);
drawCurve(neuT, bandPoints(nphiHi, nphiLo), nphiX, '#0000ff', 1.1);
drawCurve(neuT, bandPoints(rhobLo, rhobHi), rhobX, '#ff0000', 1.1);
drawCurve(neuT, pairPoints(depthFt, pef), pefX, '#008000', 2);
drawSpikes(neuT, pefSpikeFt, pefSpikeBase, pefSpikeTip, pefX, function () { return '#008000'; }, 2);
neuT.selectAll('.por').data(pairPoints(porCoreFt, porCore)).enter().append('rect')
    .attr('x', function (p) { return nphiX(p[1]) - 3.5; })
    .attr('y', function (p) { return y(p[0]) - 3.5; })
    .attr('width', 7).attr('height', 7)
    .attr('fill', 'none').attr('stroke', '#00e5e5').attr('stroke-width', 1.3);
neuT.selectAll('.rhog').data(pairPoints(rhogCoreFt, rhogCore)).enter().append('path')
    .attr('d', function (p) {
        var cx = rhobX(p[1]), cy = y(p[0]), s = 5;
        return 'M' + (cx - s) + ',' + (cy - s) + 'L' + (cx + s) + ',' + (cy + s) +
               'M' + (cx - s) + ',' + (cy + s) + 'L' + (cx + s) + ',' + (cy - s);
    })
    .attr('stroke', '#8b0000').attr('stroke-width', 1.3).attr('fill', 'none');

var sonT = clipFor('clipSon', X.son, X.sonR);
drawCurve(sonT, pairPoints(mwFt, mwPpg), mwX, '#a52020', 1.6, d3.curveStepBefore);
drawCurve(sonT, bandPoints(dtHi, dtLo), dtX, '#0000ff', 1.1);

// core interval marker and casing shoe
g.append('rect')
    .attr('x', X.md2 - 15).attr('width', 14)
    .attr('y', y(coreIntervalFt[0])).attr('height', y(coreIntervalFt[1]) - y(coreIntervalFt[0]))
    .attr('fill', '#800000');
var shoeY = y(casingShoeFt);
g.append('path')
    .attr('d', 'M' + (RIGHT - 25) + ',' + shoeY + 'L' + RIGHT + ',' + (shoeY - 50) + 'L' + RIGHT + ',' + shoeY + 'Z')
    .attr('fill', '#000');

var bht = g.append('text').datum(bhtNote)
    .attr('font-family', SANS).attr('font-size', 21).attr('fill', '#222')
    .text(function (d) { return d; });
squeeze(bht, function () { return X.sonR + 8; }, function () { return 4478; }, 0.8);

// ---- header ----
var head = g.append('g');
var titles = [["Gamma, SP, Caliper", X.gam, X.dep], ["Resistivity", X.res, X.neu],
              ["Neutron, Density", X.neu, X.son], ["Sonic, Mud Weight", X.son, X.sonR]];
var tt = head.selectAll('.title').data(titles).enter().append('text')
    .attr('text-anchor', 'middle').attr('font-family', SANS).attr('font-size', 40)
    .attr('fill', '#222').text(function (d) { return d[0]; });
squeeze(tt, function (d) { return (d[1] + d[2]) / 2; }, function () { return 211; }, 0.8);

var rowY = [276, 330, 383, 436, 490];
var legendRows = [
    [X.gam, X.dep, 1, "0", "BITSIZE", "30", "#bd7a7a"],
    [X.gam, X.dep, 2, "0", "GR (GAPI)", "200", "#ff7f7f"],
    [X.gam, X.dep, 3, "0", "CALI (in)", "30", "#7f7f7f"],
    [X.gam, X.dep, 4, "-100", "SP (mV)", "100", "#2626ff"],
    [X.res, X.neu, 2, "0.2000", "IMPH-DTE", "2000", "#ff7f7f"],
    [X.res, X.neu, 3, "0.2000", "IDPH-DTE", "2000", "#7f7fff"],
    [X.res, X.neu, 4, "0.200", "SFLU (ohmm)", "2000", "#262626"],
    [X.neu, X.son, 0, "45", "PORCORE", "-15", "#7fffff"],
    [X.neu, X.son, 1, "0", "PEF", "40", "#7fbf7f"],
    [X.neu, X.son, 2, "1.900", "RHOGCORE", "2.900", "#bd7a7a"],
    [X.neu, X.son, 3, "45", "NPHI (pu)", "-15", "#7f7fff"],
    [X.neu, X.son, 4, "1.900", "RHOB (g/cc)", "2.900", "#ff2626"],
    [X.son, X.sonR, 3, "8", "MUDWGT", "18", "#bd7a7a"],
    [X.son, X.sonR, 4, "200", "DT (us/f)", "40", "#2626ff"]
];
var lg = head.selectAll('.leg').data(legendRows).enter().append('g')
    .attr('font-family', SANS).attr('font-size', 31).attr('fill', '#222');
lg.append('line')
    .attr('x1', function (d) { return d[0]; }).attr('x2', function (d) { return d[1]; })
    .attr('y1', function (d) { return rowY[d[2]]; }).attr('y2', function (d) { return rowY[d[2]]; })
    .attr('stroke', function (d) { return d[6]; }).attr('stroke-width', 2);
var rowText = function (d) { return rowY[d[2]] - 8; };
squeeze(lg.append('text').text(function (d) { return d[3]; }),
    function (d) { return d[0] + 7; }, rowText, 0.76);
squeeze(lg.append('text').attr('text-anchor', 'middle').text(function (d) { return d[4]; }),
    function (d) { return (d[0] + d[1]) / 2; }, rowText, 0.76);
squeeze(lg.append('text').attr('text-anchor', 'end').text(function (d) { return d[5]; }),
    function (d) { return d[1] - 7; }, rowText, 0.76);

var vert = [["Formation", (X.form + X.gam) / 2, 31, 2],
            ["M. DEPTH (ft)", (X.dep + X.res) / 2, 40, 0],
            ["General Comments", (X.sonR + X.com) / 2, 38, 0],
            ["M. DEPTH (ft)", (X.com + X.md2) / 2, 40, 0],
            ["MD-KB (ft)", (X.md2 + X.kb) / 2, 41, 0],
            ["TVDSS", (X.kb + X.tv) / 2, 38, 0],
            ["General Eng.", (X.tv + RIGHT) / 2, 37, 0]];
head.selectAll('.vt').data(vert).enter().append('text')
    .attr('transform', function (d) { return 'translate(' + d[1] + ',262) rotate(90)'; })
    .attr('text-anchor', 'middle').attr('dominant-baseline', 'central')
    .attr('font-family', ROT).attr('font-weight', 200)
    .attr('font-size', function (d) { return d[2]; })
    .attr('letter-spacing', function (d) { return d[3]; })
    .attr('fill', '#333').text(function (d) { return d[0]; });
</script>
</body>
</html>
